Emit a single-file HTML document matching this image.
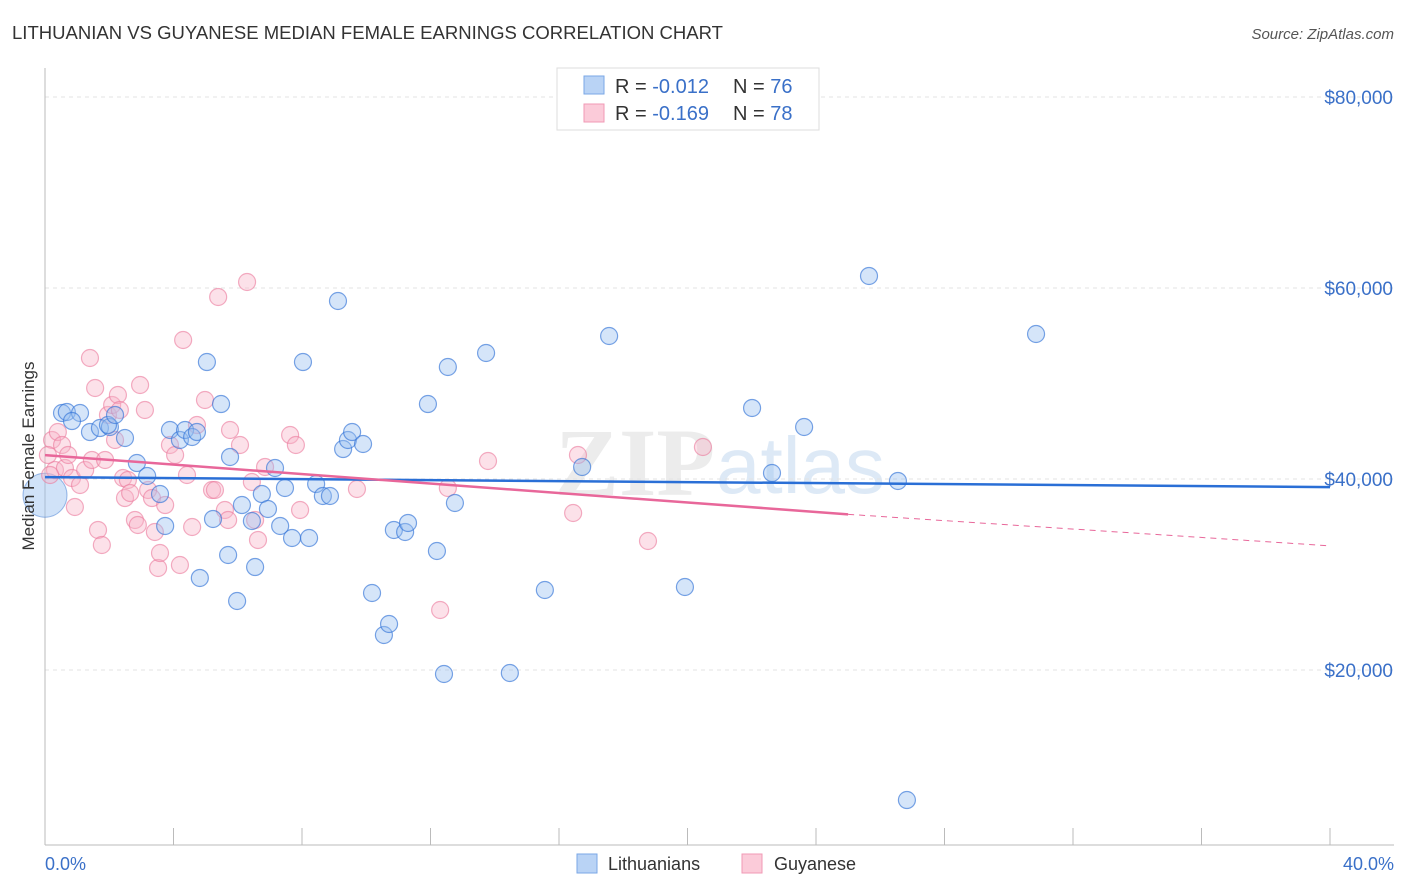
<!DOCTYPE html>
<html><head><meta charset="utf-8"><style>
body{margin:0;background:#fff;font-family:"Liberation Sans",sans-serif}
svg{display:block}
</style></head><body>
<svg id="chart" width="1406" height="892">
<text x="12" y="39" font-size="18" fill="#333" textLength="711" lengthAdjust="spacingAndGlyphs">LITHUANIAN VS GUYANESE MEDIAN FEMALE EARNINGS CORRELATION CHART</text>
<text x="1394" y="39" font-size="15" fill="#555" text-anchor="end" font-style="italic">Source: ZipAtlas.com</text>
<text x="555" y="495" font-size="96" font-weight="bold" fill="#ececec" font-family="Liberation Serif,serif">ZIP</text>
<text x="716" y="493" font-size="80" fill="#dde9f6">atlas</text>
<g id="grid"></g><g id="axes"></g><g id="pts"></g><g id="lines"></g>
<text x="34" y="456" font-size="17" fill="#333" text-anchor="middle" transform="rotate(-90 34 456)">Median Female Earnings</text>
<text x="45" y="870" font-size="18" fill="#3a70c8">0.0%</text>
<text x="1394" y="870" font-size="18" fill="#3a70c8" text-anchor="end">40.0%</text>
<g>
<rect x="557" y="68" width="262" height="62" fill="#fff" stroke="#ddd"/>
<rect x="584" y="76" width="20" height="18" fill="#b9d3f5" stroke="#7aa7e6"/>
<rect x="584" y="104" width="20" height="18" fill="#fbcbd9" stroke="#f09ab5"/>
<text x="615" y="93" font-size="20" fill="#333">R = <tspan fill="#3a70c8">-0.012</tspan><tspan x="733">N = </tspan><tspan fill="#3a70c8">76</tspan></text>
<text x="615" y="120" font-size="20" fill="#333">R = <tspan fill="#3a70c8"> -0.169</tspan><tspan x="733">N = </tspan><tspan fill="#3a70c8">78</tspan></text>
</g>
<g>
<rect x="577" y="854" width="20" height="19" fill="#b9d3f5" stroke="#7aa7e6"/>
<text x="608" y="870" font-size="18" fill="#333">Lithuanians</text>
<rect x="742" y="854" width="20" height="19" fill="#fbcbd9" stroke="#f09ab5"/>
<text x="774" y="870" font-size="18" fill="#333">Guyanese</text>
</g>
</svg>
<script>
const yTicks=[20000,40000,60000,80000];
const yTickLabels=["$20,000","$40,000","$60,000","$80,000"];
const xTicks=[0,4,8,12,16,20,24,28,32,36,40];
const bluePx=[[62,413],[67,412],[80,413],[72,421],[90,432],[100,428],[110,427],[108,425],[115,415],[125,438],[137,463],[147,476],[160,494],[165,526],[170,430],[180,440],[185,430],[192,437],[197,432],[200,578],[207,362],[213,519],[221,404],[228,555],[230,457],[237,601],[242,505],[252,521],[255,567],[262,494],[268,509],[275,468],[280,526],[285,488],[292,538],[303,362],[309,538],[316,484],[323,496],[330,496],[338,301],[343,449],[348,440],[352,432],[363,444],[372,593],[384,635],[389,624],[394,530],[405,532],[408,523],[428,404],[437,551],[448,367],[455,503],[444,674],[486,353],[510,673],[545,590],[582,467],[609,336],[685,587],[752,408],[772,473],[804,427],[869,276],[898,481],[907,800],[1036,334],[710,97]];
const pinkPx=[[52,440],[55,470],[58,432],[62,445],[65,468],[68,455],[72,478],[75,507],[80,485],[85,470],[90,358],[92,460],[95,388],[98,530],[102,545],[105,460],[108,415],[112,405],[115,440],[118,395],[120,410],[123,478],[125,498],[128,480],[130,493],[135,520],[138,525],[140,385],[145,410],[148,490],[152,498],[155,532],[158,568],[160,553],[165,505],[170,445],[175,455],[180,565],[183,340],[187,475],[192,527],[197,425],[205,400],[212,490],[215,490],[218,297],[225,510],[228,520],[230,430],[240,445],[247,282],[252,482],[255,520],[258,540],[265,467],[290,435],[296,445],[300,510],[357,489],[440,610],[448,488],[488,461],[573,513],[578,455],[648,541],[703,447],[48,455],[50,475]];
const blueX=bluePx.map(p=>+((p[0]-45)/1285*40).toFixed(2));
const blueY=bluePx.map(p=>Math.round((861-p[1])/191*20000));
const pinkX=pinkPx.map(p=>+((p[0]-45)/1285*40).toFixed(2));
const pinkY=pinkPx.map(p=>Math.round((861-p[1])/191*20000));
const blueTrend=[40200,39150];
const pinkTrend=[42500,36300,33000];
const pinkTrendX=[0,25,40];
const sx=v=>45+v/40*1285, sy=v=>861-v/20000*191;
const NS="http://www.w3.org/2000/svg";
function mk(t,a,p){const e=document.createElementNS(NS,t);for(const k in a)e.setAttribute(k,a[k]);p.appendChild(e);return e;}
const grid=document.getElementById('grid'),axes=document.getElementById('axes'),pts=document.getElementById('pts'),lines=document.getElementById('lines');
yTicks.forEach((v,i)=>{
 const l=mk('line',{x1:45,x2:1394,y1:sy(v),y2:sy(v),stroke:'#e3e3e3','stroke-dasharray':'4,4'},grid);
 
 
 const t=mk('text',{x:1393,y:sy(v)+7,'font-size':19,fill:'#3a70c8','text-anchor':'end'},grid);t.textContent=yTickLabels[i];
 
 
});
const ax=mk('line',{x1:45,x2:45,y1:68,y2:845,stroke:'#bbb'},axes);


const bx=mk('line',{x1:45,x2:1394,y1:845,y2:845,stroke:'#bbb'},axes);


xTicks.forEach(v=>{const t=mk('line',{x1:sx(v),x2:sx(v),y1:828,y2:845,stroke:'#bbb'},axes);
 
 });
const big=mk('circle',{cx:sx(0),cy:sy(38300),r:22,fill:'rgba(150,190,240,0.45)',stroke:'rgba(60,120,210,0.5)'},pts);


pinkX.forEach((x,i)=>{const c=mk('circle',{cx:sx(x),cy:sy(pinkY[i]),r:8.5,fill:'rgba(248,180,200,0.4)',stroke:'rgba(235,120,155,0.6)','stroke-width':1.2},pts);
 
 });
blueX.forEach((x,i)=>{const c=mk('circle',{cx:sx(x),cy:sy(blueY[i]),r:8.5,fill:'rgba(150,190,240,0.4)',stroke:'rgba(50,115,215,0.65)','stroke-width':1.2},pts);
 
 });
const bl=mk('line',{x1:sx(0),y1:sy(blueTrend[0]),x2:sx(40),y2:sy(blueTrend[1]),stroke:'#2a6fd6','stroke-width':2.5},lines);


const pl=mk('line',{x1:sx(pinkTrendX[0]),y1:sy(pinkTrend[0]),x2:sx(pinkTrendX[1]),y2:sy(pinkTrend[1]),stroke:'#e8679a','stroke-width':2.5},lines);


const pd=mk('line',{x1:sx(pinkTrendX[1]),y1:sy(pinkTrend[1]),x2:sx(pinkTrendX[2]),y2:sy(pinkTrend[2]),stroke:'#e8679a','stroke-width':1,'stroke-dasharray':'6,5'},lines);


</script>
</body></html>
